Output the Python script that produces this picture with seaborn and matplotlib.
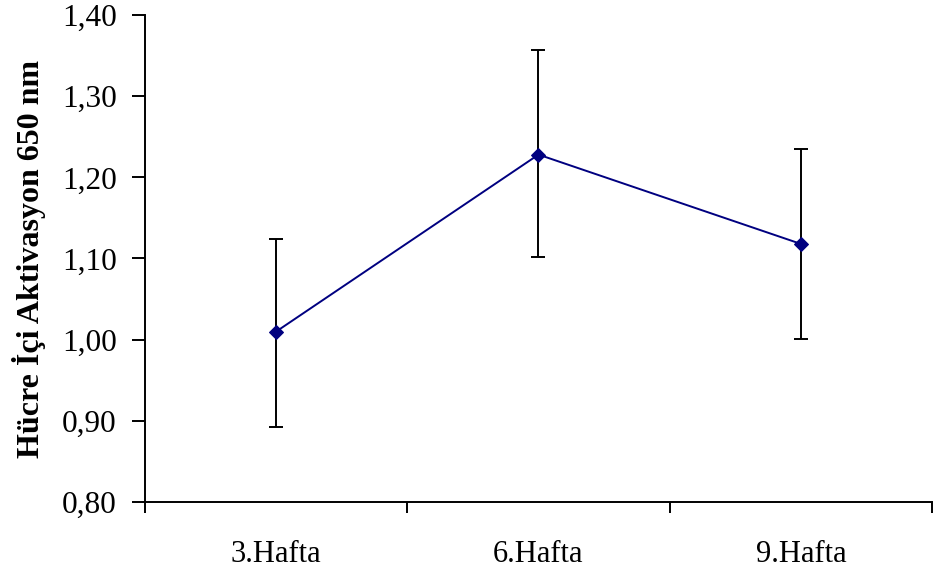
import matplotlib
matplotlib.use("Agg")
import matplotlib.pyplot as plt
import seaborn as sns
import pandas as pd
from matplotlib.ticker import FuncFormatter, FixedLocator

sns.set_style("white")
plt.rcParams["font.family"] = ["Liberation Serif", "DejaVu Serif"]
plt.rcParams["text.color"] = "black"
plt.rcParams["xtick.color"] = "black"
plt.rcParams["ytick.color"] = "black"
plt.rcParams["axes.labelcolor"] = "black"

weeks = ["3.Hafta", "6.Hafta", "9.Hafta"]
means = [1.010, 1.228, 1.118]
err_low = [0.893, 1.102, 1.001]
err_high = [1.124, 1.357, 1.235]

df = pd.DataFrame({"pos": range(len(weeks)), "week": weeks, "value": means})
lower = [m - lo for m, lo in zip(means, err_low)]
upper = [hi - m for m, hi in zip(means, err_high)]

fig = plt.figure(figsize=(9.33, 5.74), dpi=100)
ax = fig.add_axes([145 / 933, 72 / 574, 787 / 933, 487 / 574])

ax.errorbar(df["pos"], df["value"], yerr=[lower, upper], fmt="none",
            ecolor="black", elinewidth=1.4, capsize=5, capthick=1.4, zorder=2)
sns.lineplot(data=df, x="pos", y="value", ax=ax, color="#000080",
             marker="D", markersize=7.5, markeredgecolor="#000080",
             linewidth=1.4, zorder=3)

ax.set_xlim(-0.5, len(weeks) - 0.5)
ax.set_ylim(0.80, 1.40)
ax.set_yticks([0.80, 0.90, 1.00, 1.10, 1.20, 1.30, 1.40])
ax.yaxis.set_major_formatter(FuncFormatter(lambda v, _: f"{v:.2f}".replace(".", ",")))

# category boundaries get tick marks, labels sit between them
ax.xaxis.set_major_locator(FixedLocator([-0.5, 0.5, 1.5, 2.5]))
ax.xaxis.set_minor_locator(FixedLocator(list(df["pos"])))
ax.set_xticklabels([])
ax.set_xticklabels(weeks, minor=True)
ax.tick_params(axis="x", which="major", direction="out", length=8, width=1.4, bottom=True)
ax.tick_params(axis="x", which="minor", length=0, pad=27, labelsize=22)
ax.tick_params(axis="y", direction="out", length=9.5, width=1.4, left=True, labelsize=22.5, pad=11)

for side in ["top", "right"]:
    ax.spines[side].set_visible(False)
for side in ["left", "bottom"]:
    ax.spines[side].set_color("black")
    ax.spines[side].set_linewidth(1.4)

ax.set_xlabel("")
ax.set_ylabel("Hücre İçi Aktivasyon 650 nm", fontsize=23, fontweight="bold")
ax.yaxis.set_label_coords(-0.126, 0.5)

fig.savefig("out.png", dpi=100)
